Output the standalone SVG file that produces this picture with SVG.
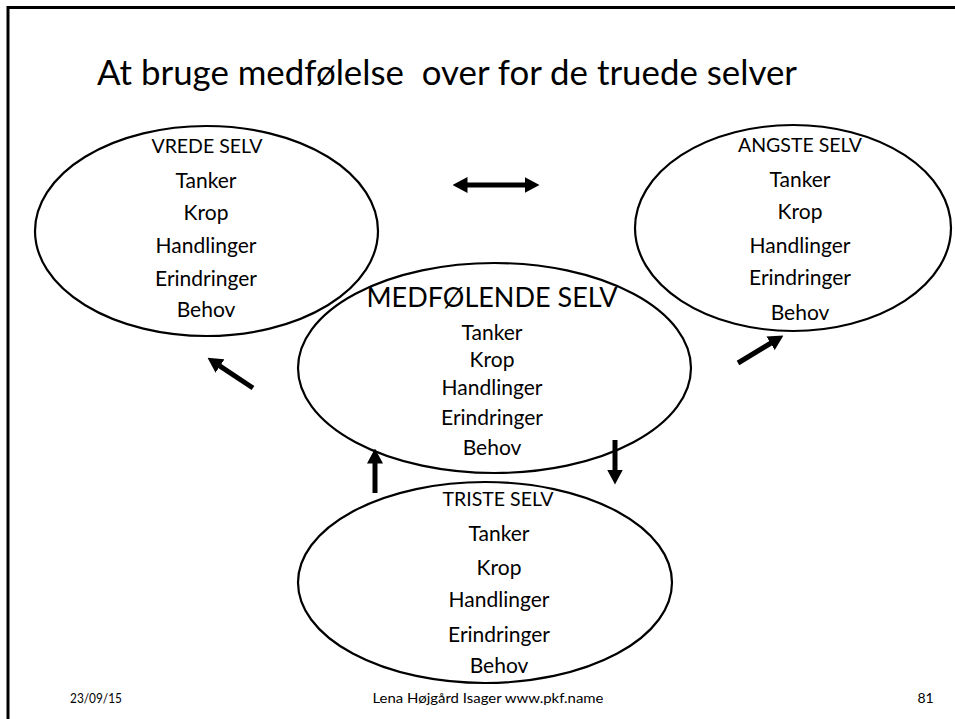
<svg xmlns="http://www.w3.org/2000/svg" width="955" height="719" viewBox="0 0 955 719">
  <style>
    text { font-family: Lato, "Open Sans", "Liberation Sans", sans-serif; fill: #000; text-anchor: middle; }
    .title { font-size: 35px; text-anchor: start; }
    .lbl { font-size: 21px; }
    .head { font-size: 19.5px; }
    .big { font-size: 27px; }
    .foot { font-size: 14px; }
    .oval { fill: none; stroke: #000; stroke-width: 2.2; }
    .arrow { fill: none; stroke: #000; stroke-width: 5; }
  </style>
  <defs>
    <marker id="tip" markerUnits="userSpaceOnUse" viewBox="0 0 15 16" markerWidth="15" markerHeight="16" refX="0.5" refY="8" orient="auto-start-reverse">
      <path d="M0,0 L15,8 L0,16 z" fill="#000"/>
    </marker>
  </defs>

  <rect width="955" height="719" fill="#fff"/>
  <!-- slide frame: top and left edges -->
  <path d="M8,719 V7.5 H955" fill="none" stroke="#000" stroke-width="3"/>

  <text class="title" x="97" y="85" xml:space="preserve" textLength="700" lengthAdjust="spacingAndGlyphs">At bruge medfølelse  over for de truede selver</text>

  <g id="vrede">
    <ellipse class="oval" cx="206.5" cy="231" rx="171.5" ry="105"/>
    <text class="head" x="207" y="153">VREDE SELV</text>
    <text class="lbl" x="206" y="188">Tanker</text>
    <text class="lbl" x="206" y="220">Krop</text>
    <text class="lbl" x="206" y="253">Handlinger</text>
    <text class="lbl" x="206" y="286">Erindringer</text>
    <text class="lbl" x="206" y="317">Behov</text>
  </g>

  <g id="angste">
    <ellipse class="oval" cx="793" cy="228" rx="158" ry="103"/>
    <text class="head" x="800" y="152">ANGSTE SELV</text>
    <text class="lbl" x="800" y="187">Tanker</text>
    <text class="lbl" x="800" y="219">Krop</text>
    <text class="lbl" x="800" y="253">Handlinger</text>
    <text class="lbl" x="800" y="285">Erindringer</text>
    <text class="lbl" x="800" y="320">Behov</text>
  </g>

  <g id="medfoelende">
    <ellipse class="oval" cx="494.5" cy="368" rx="196.5" ry="105"/>
    <text class="big" x="492" y="307">MEDFØLENDE SELV</text>
    <text class="lbl" x="492" y="340">Tanker</text>
    <text class="lbl" x="492" y="367">Krop</text>
    <text class="lbl" x="492" y="395">Handlinger</text>
    <text class="lbl" x="492" y="425">Erindringer</text>
    <text class="lbl" x="492" y="455">Behov</text>
  </g>

  <g id="triste">
    <ellipse class="oval" cx="485" cy="582.5" rx="187" ry="100.5"/>
    <text class="head" x="498" y="506">TRISTE SELV</text>
    <text class="lbl" x="499" y="541">Tanker</text>
    <text class="lbl" x="499" y="575">Krop</text>
    <text class="lbl" x="499" y="607">Handlinger</text>
    <text class="lbl" x="499" y="642">Erindringer</text>
    <text class="lbl" x="499" y="673">Behov</text>
  </g>

  <g id="connectors">
    <line class="arrow" x1="467" y1="185" x2="525" y2="185" marker-start="url(#tip)" marker-end="url(#tip)"/>
    <line class="arrow" x1="738" y1="363" x2="771" y2="343" marker-end="url(#tip)"/>
    <line class="arrow" x1="253" y1="388" x2="219.6" y2="365.8" marker-end="url(#tip)"/>
    <line class="arrow" x1="375" y1="493" x2="375" y2="463" marker-end="url(#tip)"/>
    <line class="arrow" x1="615" y1="440" x2="615" y2="470" marker-end="url(#tip)"/>
  </g>

  <g id="footer">
    <text class="foot" x="96" y="703" textLength="52" lengthAdjust="spacingAndGlyphs">23/09/15</text>
    <text class="foot" x="488" y="703" textLength="231" lengthAdjust="spacingAndGlyphs">Lena Højgård Isager www.pkf.name</text>
    <text class="foot" x="925.5" y="703">81</text>
  </g>
</svg>
